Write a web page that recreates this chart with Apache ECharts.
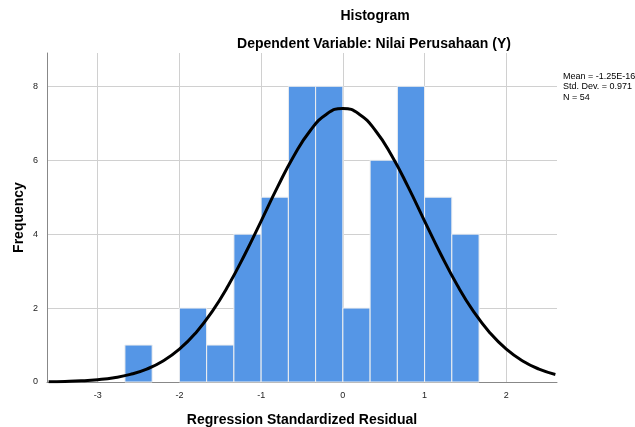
<!DOCTYPE html>
<html lang="en">
<head>
    <meta charset="UTF-8">
    <title>Histogram</title>
    <script src="https://cdn.jsdelivr.net/npm/echarts@6/dist/echarts.min.js"></script>
</head>
<body style="margin:0;">
<div id="pic1" style="width:635px;height:427px;"></div>

<script>
    // bin edges (lower bound) and counts, width 1/3
    var binStart = [-8/3, -2, -5/3, -4/3, -1, -2/3, -1/3, 0, 1/3, 2/3, 1, 4/3];
    var counts = [1, 2, 1, 4, 5, 8, 8, 2, 6, 8, 5, 4];
    var binWidth = 1/3;

    // normal curve
    var curveX = [-3.6, -3.4, -3.2, -3.0, -2.8, -2.6, -2.4, -2.2, -2.0, -1.8, -1.6, -1.4, -1.2, -1.0, -0.8, -0.6, -0.4, -0.2,
        0, 0.2, 0.4, 0.6, 0.8, 1.0, 1.2, 1.4, 1.6, 1.8, 2.0, 2.2, 2.4, 2.6];
    var curveY = [0.008, 0.016, 0.032, 0.063, 0.116, 0.205, 0.349, 0.568, 0.887, 1.328, 1.904, 2.617, 3.449, 4.354, 5.270, 6.114, 6.798, 7.245,
        7.40, 7.245, 6.798, 6.114, 5.270, 4.354, 3.449, 2.617, 1.904, 1.328, 0.887, 0.568, 0.349, 0.205];

    var xTicks = [-3, -2, -1, 0, 1, 2];
    var yTicks = [0, 2, 4, 6, 8];
    var statsText = ['Mean = -1.25E-16', 'Std. Dev. = 0.971', 'N = 54'];

    var myCharts1 = echarts.init(document.getElementById('pic1'));

    var barData = binStart.map(function (s, i) { return [s, s + binWidth, counts[i]]; });
    var lineData = curveX.map(function (x, i) { return [x, curveY[i]]; });

    var option1 = {
        backgroundColor: 'white',
        animation: false,
        textStyle: {fontFamily: 'Liberation Sans, Arial, sans-serif'},
        title: [
            {
                text: 'Histogram',
                left: 370, top: 4, textAlign: 'center',
                textStyle: {fontSize: 14, fontWeight: 'bold', color: '#000'}
            },
            {
                text: 'Dependent Variable: Nilai Perusahaan (Y)',
                left: 369, top: 32, textAlign: 'center',
                textStyle: {fontSize: 14, fontWeight: 'bold', color: '#000'}
            }
        ],
        graphic: [
            {
                type: 'text', left: 563, top: 71,
                style: {text: statsText.join('\n'), fontSize: 9, lineHeight: 10.5, fill: '#000',
                    fontFamily: 'Liberation Sans, Arial, sans-serif'}
            }
        ],
        grid: {left: 47, right: 78, top: 53, bottom: 45, outerBoundsMode: 'none'},
        xAxis: {
            type: 'value',
            min: -3.62, max: 2.62,
            name: 'Regression Standardized Residual',
            nameLocation: 'middle',
            nameGap: 31,
            nameTextStyle: {fontSize: 14, fontWeight: 'bold', color: '#000'},
            axisLine: {show: true, lineStyle: {color: '#888', width: 1}},
            axisTick: {show: false, customValues: xTicks},
            axisLabel: {
                fontSize: 9, color: '#222', margin: 9,
                customValues: xTicks
            },
            splitLine: {show: true, lineStyle: {color: '#d0d0d0', width: 1}}
        },
        yAxis: {
            type: 'value',
            min: 0, max: 8.9,
            name: 'Frequency',
            nameLocation: 'middle',
            nameGap: 21,
            nameMoveOverlap: false,
            nameTextStyle: {fontSize: 14, fontWeight: 'bold', color: '#000'},
            axisLine: {show: true, onZero: false, lineStyle: {color: '#888', width: 1}},
            axisTick: {show: false, customValues: yTicks},
            axisLabel: {fontSize: 9, color: '#222', margin: 9, customValues: yTicks},
            splitLine: {show: true, lineStyle: {color: '#d0d0d0', width: 1}}
        },
        series: [
            {
                type: 'custom',
                data: barData,
                renderItem: function (params, api) {
                    var p0 = api.coord([api.value(0), 0]);
                    var p1 = api.coord([api.value(1), api.value(2)]);
                    return {
                        type: 'rect',
                        shape: {x: p0[0], y: p1[1], width: p1[0] - p0[0], height: p0[1] - p1[1]},
                        style: {fill: '#5596E6', stroke: '#f0f0f0', lineWidth: 1}
                    };
                },
                z: 2
            },
            {
                type: 'line',
                data: lineData,
                smooth: true,
                showSymbol: false,
                lineStyle: {color: '#000', width: 3},
                z: 3
            }
        ]
    };
    myCharts1.setOption(option1);
</script>
</body>
</html>
